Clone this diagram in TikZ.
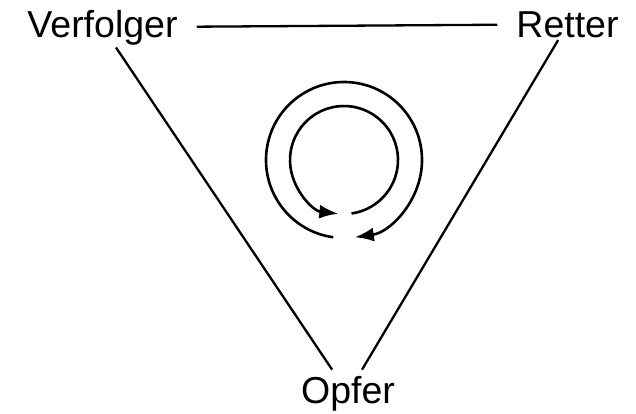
\documentclass[tikz,border=0pt]{standalone}
\usepackage{fontspec}
\setmainfont{Liberation Sans}
\usetikzlibrary{arrows.meta}
\begin{document}
\begin{tikzpicture}[x=1pt,y=-1pt,
  role/.style={font=\fontsize{37.5}{42}\selectfont, anchor=base, inner xsep=19pt, inner ysep=2.5pt},
  edge/.style={line width=2.3pt},
  cyc/.style={line width=2.6pt, -{Latex[length=19pt,width=14pt]}}]
\useasboundingbox (0,0) rectangle (636,413);
\node[role] (v) at (102.5,37) {Verfolger};
\node[role] (r) at (567.5,37) {Retter};
\node[role, inner ysep=6pt] (o) at (348,403) {Opfer};
\draw[edge] (v) -- (r);
\draw[edge] (v) -- (o);
\draw[edge] (r) -- (o);
\coordinate (c) at (344,160);
\draw[cyc] ([shift={(82:54)}]c) arc[start angle=82, end angle=-264, radius=54];
\draw[cyc] ([shift={(-262:78)}]c) arc[start angle=-262, end angle=82, radius=78];
\end{tikzpicture}
\end{document}
